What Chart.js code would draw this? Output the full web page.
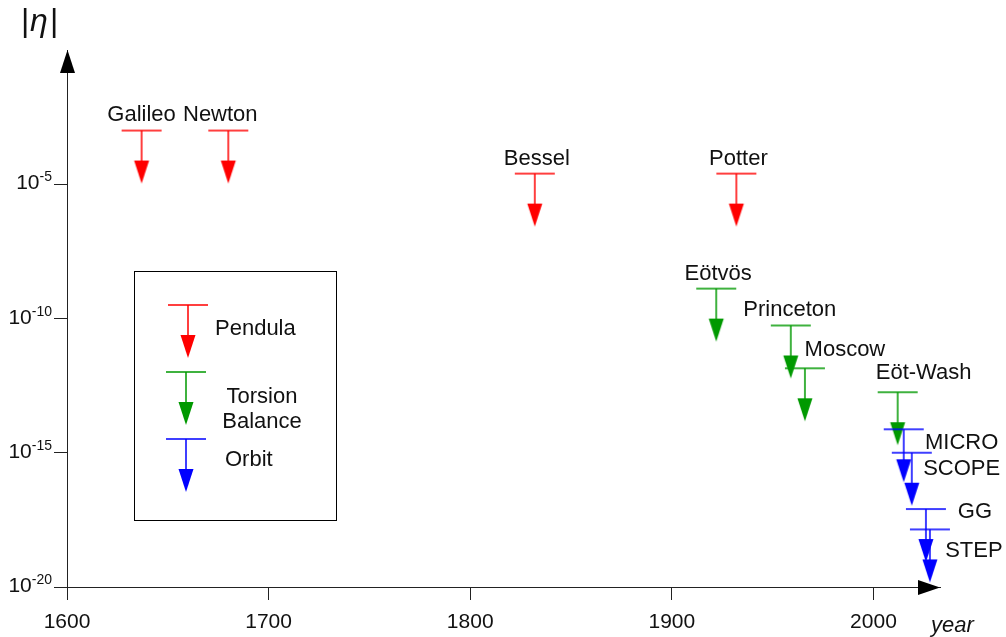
<!DOCTYPE html>
<html>
<head>
<meta charset="utf-8">
<script src="https://cdn.jsdelivr.net/npm/chart.js@4.4.1/dist/chart.umd.min.js"></script>
<style>
  body { margin: 0; background: #fff; }
  canvas { display: block; }
</style>
</head>
<body>
<canvas id="eotChart" width="1006" height="637"></canvas>
<script>
// Tests of the equivalence principle: year and upper limit on |eta|
const experiments = ['Galileo', 'Newton', 'Bessel', 'Potter', 'Eötvös', 'Princeton', 'Moscow', 'Eöt-Wash', 'MICROSCOPE', 'MICROSCOPE', 'GG', 'STEP'];
const years = [1637, 1680, 1832, 1932, 1922, 1959, 1966, 2012, 2015, 2019, 2026, 2028];
const limits = [1e-3, 1e-3, 2.5e-5, 2.5e-5, 1.3e-9, 5.5e-11, 1.4e-12, 1.8e-13, 7.5e-15, 1e-15, 8e-18, 1.4e-18];
const methods = ['Pendula', 'Pendula', 'Pendula', 'Pendula', 'Torsion Balance', 'Torsion Balance', 'Torsion Balance', 'Torsion Balance', 'Orbit', 'Orbit', 'Orbit', 'Orbit'];
const methodNames = ['Pendula', 'Torsion Balance', 'Orbit'];
const xTicks = [1600, 1700, 1800, 1900, 2000];
const yTickExponents = [-5, -10, -15, -20];

// styling
const FONT = '"Liberation Sans", Arial, sans-serif';
const INK = '#111';
const arrowColors = { 'Pendula': '#ff0000', 'Torsion Balance': '#009900', 'Orbit': '#0000ff' };
// where each name is written, relative to its limit bar (px); split = two-line label
const labelSpots = [
  { dx: 0, dy: -16 }, { dx: -8, dy: -16 }, { dx: 2, dy: -15 }, { dx: 2, dy: -15 },
  { dx: 2, dy: -15 }, { dx: -1, dy: -16 }, { dx: 40, dy: -18 }, { dx: 26, dy: -19 },
  { dx: 58, dy: 14, split: 5 }, null, { dx: 49, dy: 3 }, { dx: 44, dy: 22 }
];

// an upper-limit marker: bar at the limit, arrow pointing down
function makeArrow(color) {
  const c = document.createElement('canvas');
  c.width = 42; c.height = 112;
  const g = c.getContext('2d');
  g.strokeStyle = color; g.fillStyle = color; g.lineWidth = 1.5;
  g.beginPath();
  g.moveTo(1, 56); g.lineTo(41, 56);
  g.moveTo(21, 56); g.lineTo(21, 88);
  g.stroke();
  g.beginPath();
  g.moveTo(13.5, 86); g.lineTo(28.5, 86); g.lineTo(21, 109); g.closePath();
  g.fill();
  return c;
}
const arrowImages = {};
methodNames.forEach(m => { arrowImages[m] = makeArrow(arrowColors[m]); });

const datasets = methodNames.map((m, k) => ({
  label: m,
  data: years.map((yr, i) => ({ x: yr, y: limits[i], m: methods[i] })).filter(p => p.m === m),
  pointStyle: arrowImages[m],
  pointRadius: 20,
  showLine: false,
  clip: false,
  order: 3 - k
}));

const decor = {
  id: 'decor',
  beforeDatasetsDraw(chart) {
    const { ctx, chartArea: a } = chart;
    ctx.save();
    ctx.fillStyle = '#000';
    // y axis arrow head
    ctx.beginPath();
    ctx.moveTo(a.left + 0.5, a.top); ctx.lineTo(a.left - 7, a.top + 23); ctx.lineTo(a.left + 8, a.top + 23);
    ctx.closePath(); ctx.fill();
    // x axis arrow head
    ctx.beginPath();
    ctx.moveTo(a.right, a.bottom + 0.5); ctx.lineTo(a.right - 22, a.bottom - 7); ctx.lineTo(a.right - 22, a.bottom + 8);
    ctx.closePath(); ctx.fill();
    ctx.restore();
  },
  afterDatasetsDraw(chart) {
    const { ctx, scales: { x, y } } = chart;
    ctx.save();
    ctx.fillStyle = INK;

    // experiment names
    ctx.font = '22px ' + FONT;
    ctx.textAlign = 'center';
    ctx.textBaseline = 'middle';
    experiments.forEach((name, i) => {
      const spot = labelSpots[i];
      if (!spot) return;
      const px = x.getPixelForValue(years[i]) + spot.dx;
      const py = y.getPixelForValue(limits[i]) + spot.dy;
      const lines = spot.split ? [name.slice(0, spot.split), name.slice(spot.split)] : [name];
      lines.forEach((t, j) => ctx.fillText(t, px, py + j * 26));
    });

    // y tick labels with superscript exponents
    ctx.textAlign = 'right';
    ctx.textBaseline = 'alphabetic';
    yTickExponents.forEach(e => {
      const py = y.getPixelForValue(Math.pow(10, e));
      const sup = String(e);
      ctx.font = '14px ' + FONT;
      ctx.fillText(sup, 52, py - 3);
      const w = ctx.measureText(sup).width;
      ctx.font = '21px ' + FONT;
      ctx.fillText('10', 52 - w, py + 5);
    });

    // axis titles
    ctx.textAlign = 'left';
    ctx.font = 'italic 22px ' + FONT;
    ctx.fillText('year', 931, 632);
    ctx.font = '32px ' + FONT;
    ctx.fillText('|', 21, 31);
    ctx.font = 'italic 32px ' + FONT;
    ctx.fillText('η', 30, 31);
    ctx.font = '32px ' + FONT;
    ctx.fillText('|', 50, 31);

    // legend box
    ctx.strokeStyle = '#000';
    ctx.lineWidth = 1;
    ctx.strokeRect(134.5, 271.5, 202, 249);
    const legendRows = [
      { stemX: 188, barY: 305 },
      { stemX: 186, barY: 372 },
      { stemX: 186, barY: 439 }
    ];
    methodNames.forEach((m, k) => {
      const r = legendRows[k];
      ctx.drawImage(arrowImages[m], r.stemX - 21, r.barY - 56);
    });
    ctx.font = '22px ' + FONT;
    ctx.textBaseline = 'middle';
    ctx.textAlign = 'left';
    ctx.fillText('Pendula', 215, 329);
    ctx.fillText('Orbit', 225, 460);
    ctx.textAlign = 'center';
    ctx.fillText('Torsion', 262, 397);
    ctx.fillText('Balance', 262, 422);
    ctx.restore();
  }
};

new Chart(document.getElementById('eotChart'), {
  type: 'scatter',
  data: { datasets },
  options: {
    responsive: false,
    animation: false,
    events: [],
    layout: { padding: { top: 50, right: 66, left: 0, bottom: 0 } },
    plugins: { legend: { display: false }, tooltip: { enabled: false } },
    scales: {
      x: {
        type: 'linear',
        min: 1600,
        max: 2033,
        afterBuildTicks: s => { s.ticks = xTicks.map(v => ({ value: v })); },
        afterFit: s => { s.height = 50; },
        grid: { drawOnChartArea: false, drawTicks: true, tickLength: 13, color: '#222' },
        border: { display: true, color: '#222', width: 1 },
        ticks: { font: { family: FONT, size: 21 }, color: INK, padding: 10, maxRotation: 0, callback: v => String(v) }
      },
      y: {
        type: 'logarithmic',
        min: 1e-20,
        max: 1,
        afterBuildTicks: s => { s.ticks = yTickExponents.map(e => ({ value: Math.pow(10, e) })); },
        afterFit: s => { s.width = 67; },
        grid: { drawOnChartArea: false, drawTicks: true, tickLength: 13, color: '#222' },
        border: { display: true, color: '#222', width: 1 },
        ticks: { display: false }
      }
    }
  },
  plugins: [decor]
});
</script>
</body>
</html>
